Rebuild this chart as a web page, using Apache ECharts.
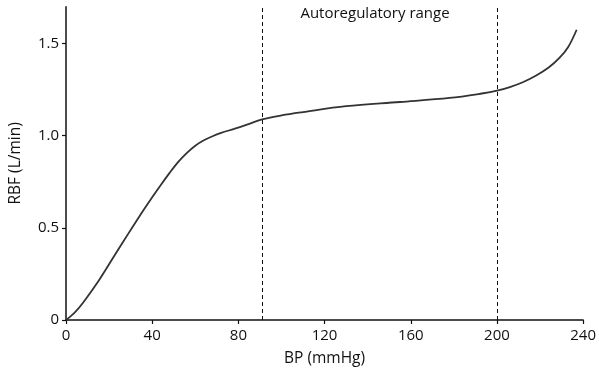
<!DOCTYPE html>
<html>
<head>
<meta charset="utf-8">
<script src="https://cdn.jsdelivr.net/npm/echarts@6/dist/echarts.min.js"></script>
<style>
  html, body { margin: 0; padding: 0; background: #fff; }
  #chart { width: 599px; height: 372px; }
</style>
</head>
<body>
<div id="chart"></div>
<script>
// values
const bp = [0, 4, 8, 15, 22, 29, 36, 40, 44, 48, 52, 56, 60, 64, 68, 72, 78, 84, 91, 100, 110, 130, 155, 178, 193, 200, 206, 212, 218, 224, 229, 233, 237]
const rbf = [0, 0.04, 0.095, 0.21, 0.34, 0.47, 0.597, 0.666, 0.733, 0.797, 0.857, 0.906, 0.946, 0.975, 0.997, 1.015, 1.037, 1.06, 1.088, 1.11, 1.128, 1.16, 1.183, 1.205, 1.229, 1.244, 1.264, 1.29, 1.325, 1.37, 1.422, 1.48, 1.575]
const rangeBounds = [91, 200]
const xTicks = [0, 40, 80, 120, 160, 200, 240]
const yTicks = [0, 0.5, 1.0, 1.5]

const font = '"Open Sans", "Noto Sans", sans-serif'
const ink = '#111'

const myChart = echarts.init(document.getElementById('chart'))
const option = {
    animation: false,
    grid: {left: 61, right: 14, top: 6.7, bottom: 50},
    graphic: [{
        type: 'text',
        x: 375,
        y: 14,
        style: {
            text: 'Autoregulatory range',
            align: 'center',
            verticalAlign: 'middle',
            font: '15px ' + font,
            fill: ink
        }
    }],
    xAxis: {
        type: 'value',
        min: 0,
        max: 240,
        interval: 40,
        name: 'BP (mmHg)',
        nameLocation: 'middle',
        nameGap: 31,
        nameTextStyle: {color: ink, fontFamily: font, fontSize: 15.5},
        axisLine: {show: true, lineStyle: {color: ink, width: 1.5}},
        axisTick: {show: true, length: 4, lineStyle: {color: ink, width: 1.2}, customValues: xTicks},
        axisLabel: {color: ink, fontFamily: font, fontSize: 15, margin: 8, customValues: xTicks},
        splitLine: {show: false}
    },
    yAxis: {
        type: 'value',
        min: 0,
        max: 1.7,
        interval: 0.5,
        name: 'RBF (L/min)',
        nameLocation: 'middle',
        nameGap: 42,
        nameTextStyle: {color: ink, fontFamily: font, fontSize: 15.5},
        axisLine: {show: true, lineStyle: {color: ink, width: 1.5}},
        axisTick: {show: true, length: 4, lineStyle: {color: ink, width: 1.2}, customValues: yTicks},
        axisLabel: {
            color: ink, fontFamily: font, fontSize: 15, margin: 7,
            customValues: yTicks,
            formatter: v => v === 0 ? '0' : v.toFixed(1)
        },
        splitLine: {show: false}
    },
    series: [{
        type: 'line',
        data: bp.map((x, i) => [x, rbf[i]]),
        smooth: 0.35,
        showSymbol: false,
        lineStyle: {color: '#333', width: 1.8},
        markLine: {
            silent: true,
            symbol: 'none',
            label: {show: false},
            lineStyle: {color: ink, type: [4, 3], width: 1},
            data: rangeBounds.map(v => ({xAxis: v}))
        }
    }]
}
myChart.setOption(option)
</script>
</body>
</html>
